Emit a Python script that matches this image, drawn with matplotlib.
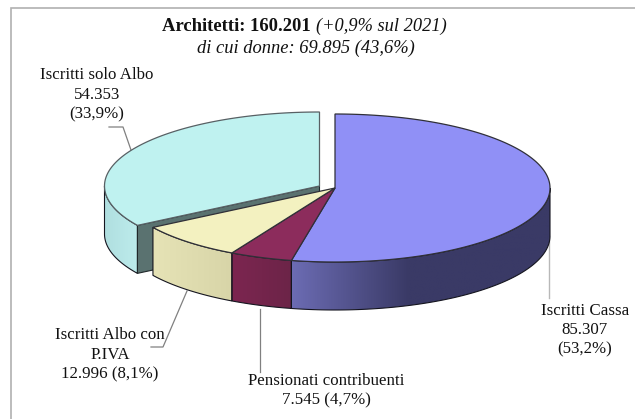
import numpy as np
import matplotlib
matplotlib.use('Agg')
import matplotlib.pyplot as plt
from matplotlib.patches import Polygon, Rectangle

categories = ['Iscritti Cassa', 'Pensionati contribuenti', 'Iscritti Albo con\nP.IVA', 'Iscritti solo Albo']
values = [85307, 7545, 12996, 54353]
percents = ['53,2%', '4,7%', '8,1%', '33,9%']
top_colors = ['#9090f6', '#8c2c5c', '#f3f1c0', '#bff2f0']
top_edges = ['#303038', '#303038', '#303038', '#586064']
side_left = ['#6c6cb4', '#7c2650', '#e6e3b6', '#b0dfe0']
side_right = ['#3a3a66', '#6c2448', '#d8d5a8', '#bdecec']

plt.rcParams['font.family'] = ['Liberation Serif', 'DejaVu Serif']

fig, ax = plt.subplots(figsize=(6.35, 4.19), dpi=100)
ax.set_position([0, 0, 1, 1])
ax.set_xlim(0, 635)
ax.set_ylim(419, 0)
ax.axis('off')

# pie geometry in pixels
cx, cy = 335, 188
a, b = 215, 74
depth = 48
explode = [(0, 0), (0, 0), (0, 0), (-15.5, -2)]

# frame runs off the right and bottom of the picture
ax.add_patch(Rectangle((10.5, 8), 640, 430, fc='white', ec='#b0b0b0', lw=1.2, zorder=0))

fracs = np.array(values) / sum(values)
edges = np.concatenate([[0], np.cumsum(fracs)]) * 2 * np.pi


def arc(t0, t1, ox, oy):
    t = np.linspace(t0, t1, 200)
    return cx + ox + a * np.sin(t), cy + oy - b * np.cos(t)


def draw_side(i, zorder):
    # only the front half of the rim can be seen
    t0 = max(edges[i], np.pi / 2)
    t1 = min(edges[i + 1], 3 * np.pi / 2)
    if t1 <= t0:
        return
    ox, oy = explode[i]
    x, y = arc(t0, t1, ox, oy)
    pts = np.column_stack([np.r_[x, x[::-1]], np.r_[y, y[::-1] + depth]])
    poly = Polygon(pts, fc='none', ec='none', zorder=zorder)
    ax.add_patch(poly)
    c0 = np.array(matplotlib.colors.to_rgb(side_left[i]))
    c1 = np.array(matplotlib.colors.to_rgb(side_right[i]))
    # the big slice reaches its dark tone well before the right edge
    s = np.linspace(0, 1, 256)
    if i == 0:
        s = np.clip(s * 2.2, 0, 1)
    img = c0 + (c1 - c0) * s[:, None]
    im = ax.imshow(img[None, :, :], extent=[x.min(), x.max(), y.max() + depth, y.min()],
                   aspect='auto', zorder=zorder)
    im.set_clip_path(poly)
    ax.add_patch(Polygon(pts, fc='none', ec='#15151f', lw=0.8, zorder=zorder + 0.1))


def draw_top(i, zorder):
    ox, oy = explode[i]
    x, y = arc(edges[i], edges[i + 1], ox, oy)
    pts = np.column_stack([np.r_[cx + ox, x], np.r_[cy + oy, y]])
    ax.add_patch(Polygon(pts, fc=top_colors[i], ec=top_edges[i], lw=0.9, zorder=zorder))


# exploded slice goes first: its cut face sits behind the other slices
ox, oy = explode[3]
xl, yl = arc(edges[3], edges[3], ox, oy)
face = [(cx + ox, cy + oy), (xl[0], yl[0]), (xl[0], yl[0] + depth), (cx + ox, cy + oy + depth)]
draw_side(3, 1)
ax.add_patch(Polygon(face, fc='#5a7270', ec='#20282a', lw=0.8, zorder=1.5))
draw_top(3, 2)

for i in range(3):
    draw_side(i, 3)
for i in range(3):
    draw_top(i, 4)

# leader lines
line_color = '#808080'
ax.plot([131, 123, 109], [150, 127, 127], color=line_color, lw=0.9, zorder=1)
ax.plot([187, 163, 151], [291, 347, 347], color=line_color, lw=0.9, zorder=1)
ax.plot([260, 260], [309, 372], color=line_color, lw=0.9, zorder=1)
ax.plot([549, 549], [236, 298], color='#b8b8b8', lw=1.0, zorder=1)


def slice_label(i, x, y):
    name = categories[i]
    num = f'{values[i]:,}'.replace(',', '.')
    if i in (1, 2):
        txt = f'{name}\n{num} ({percents[i]})'
    else:
        txt = f'{name}\n{num}\n({percents[i]})'
    ax.text(x, y, txt, ha='center', va='top', fontsize=12.2, color='#111111',
            linespacing=1.3, zorder=5)


slice_label(0, 585, 302.5)
slice_label(1, 326, 373)
slice_label(2, 110, 327)
slice_label(3, 97, 67)

ax.text(162, 18, 'Architetti: 160.201', fontsize=13.4, fontweight='bold', va='top', color='#111111')
ax.text(316, 18, '(+0,9% sul 2021)', fontsize=13.2, fontstyle='italic', va='top', color='#111111')
ax.text(306, 40, 'di cui donne: 69.895 (43,6%)', fontsize=13.3, fontstyle='italic',
        ha='center', va='top', color='#111111')

fig.savefig('out.png', dpi=100)
